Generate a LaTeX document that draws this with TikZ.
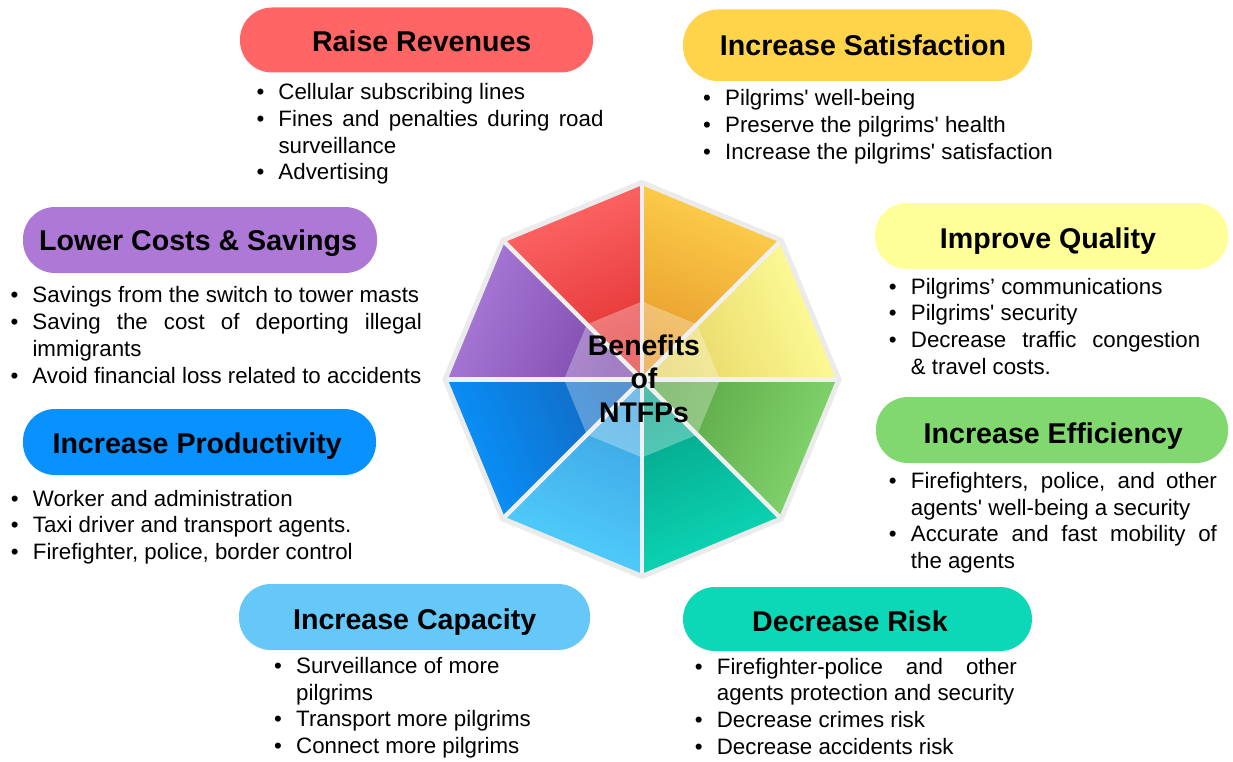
\documentclass[tikz,border=0pt]{standalone}
\usepackage{fontspec}
\setmainfont{Liberation Sans}
\newfontfamily\lib{Liberation Sans}
\usetikzlibrary{calc}
\definecolor{rrC}{HTML}{FF6565}
\definecolor{satC}{HTML}{FFD44A}
\definecolor{lcC}{HTML}{AD78D6}
\definecolor{iqC}{HTML}{FFFF99}
\definecolor{ieC}{HTML}{80D86E}
\definecolor{ipC}{HTML}{0891FF}
\definecolor{icC}{HTML}{66C8F8}
\definecolor{drC}{HTML}{0CD8B8}
\definecolor{redO}{HTML}{FF6A6A}
\definecolor{redI}{HTML}{E23030}
\definecolor{orO}{HTML}{FFD24E}
\definecolor{orI}{HTML}{E69A2A}
\definecolor{yeO}{HTML}{FFFF9C}
\definecolor{yeI}{HTML}{E6D462}
\definecolor{grO}{HTML}{84D870}
\definecolor{grI}{HTML}{5AA444}
\definecolor{teO}{HTML}{0CDAB8}
\definecolor{teI}{HTML}{05A288}
\definecolor{lbO}{HTML}{52D0FF}
\definecolor{lbI}{HTML}{3CA2E0}
\definecolor{blO}{HTML}{0894FF}
\definecolor{blI}{HTML}{1266BC}
\definecolor{puO}{HTML}{AC7CDA}
\definecolor{puI}{HTML}{7A48AA}
\definecolor{sepC}{HTML}{F0F0F0}
\definecolor{bordC}{HTML}{EBEBEB}
\newcommand{\myb}[1]{\hbox{\llap{\hbox to 22pt{•\hfil}}#1}}
\newcommand{\myj}[2]{\hbox{\llap{\hbox to 22pt{•\hfil}}\makebox[#1][s]{#2}}}
\newcommand{\myc}[1]{\hbox{#1}}
\newcommand{\mycj}[2]{\hbox{\makebox[#1][s]{#2}}}
\tikzset{
  pill/.style={rounded corners=32pt, inner sep=0pt, draw=none},
  ttl/.style={anchor=base, inner sep=0pt, text=black, font=\lib\bfseries\fontsize{28.6}{34}\selectfont},
  blist/.style={anchor=base west, inner sep=0pt, text=black, font=\lib\fontsize{22.3}{26.8}\selectfont},
  sepline/.style={draw=sepC, line width=4.5pt},
  octborder/.style={draw=bordC, line width=5pt, line join=miter},
}
\begin{document}
\begin{tikzpicture}[x=1pt,y=1pt]
\fill[white] (0,0) rectangle (1233,-762);
\useasboundingbox (0,0) rectangle (1233,-762);

% central octagon
\begin{scope}[shift={(642,-379.5)}]
  \foreach \a/\co/\ci in {90/redO/redI, 45/orO/orI, 0/yeO/yeI, -45/grO/grI, -90/teO/teI, -135/lbO/lbI, 180/blO/blI, 135/puO/puI}{
    \pgfmathsetmacro\sa{\a-67.5}
    \shade[top color=\co, bottom color=\ci, shading angle=\sa] (0,0) -- (\a:197) -- (\a+45:197) -- cycle;
  }
  \fill[white, fill opacity=0.3] (0:78) \foreach \k in {1,...,7}{ -- (\k*45:78)} -- cycle;
  \foreach \k in {0,...,7}{ \draw[sepline] (0,0) -- (\k*45:197); }
  \draw[octborder] (0:197) \foreach \k in {1,...,7}{ -- (\k*45:197)} -- cycle;
\end{scope}
\node[anchor=base, inner sep=0pt, text=black, font=\lib\bfseries\fontsize{28.4}{33.8}\selectfont] (ctr) at (644,-355)
  {\vtop{\baselineskip=33.8pt \hbox to 0pt{\hss Benefits\hss}\hbox to 0pt{\hss of\hss}\hbox to 0pt{\hss NTFPs\hss}}};

% pills
\node[pill, fill=rrC, minimum width=353pt, minimum height=65pt] (rrP) at (416.5,-40) {};
\node[pill, fill=satC, rounded corners=35pt, minimum width=349pt, minimum height=71.5pt] (satP) at (857.5,-45.25) {};
\node[pill, fill=lcC, minimum width=354pt, minimum height=66pt] (lcP) at (200,-240) {};
\node[pill, fill=iqC, minimum width=353pt, minimum height=66pt] (iqP) at (1051.5,-236) {};
\node[pill, fill=ieC, minimum width=352pt, minimum height=66pt] (ieP) at (1052,-430) {};
\node[pill, fill=ipC, minimum width=353pt, minimum height=66pt] (ipP) at (199.5,-442) {};
\node[pill, fill=icC, minimum width=351pt, minimum height=66pt] (icP) at (414.5,-617) {};
\node[pill, fill=drC, minimum width=349pt, minimum height=64pt] (drP) at (857.5,-619) {};

% titles
\node[ttl] (rrT) at (421.7,-51.5) {Raise Revenues};
\node[ttl] (satT) at (863,-56) {Increase Satisfaction};
\node[ttl] (lcT) at (198,-250.7) {Lower Costs \& Savings};
\node[ttl] (iqT) at (1048,-248.3) {Improve Quality};
\node[ttl] (ieT) at (1053.3,-443.3) {Increase Efficiency};
\node[ttl] (ipT) at (197.2,-453.3) {Increase Productivity};
\node[ttl] (icT) at (414.7,-629.3) {Increase Capacity};
\node[ttl] (drT) at (850,-631) {Decrease Risk};

% bullet lists
\node[blist] (rrL) at (278.3,-99.5) {\vtop{\baselineskip=26.8pt
  \myb{Cellular subscribing lines}
  \myj{325pt}{Fines and penalties during road}
  \myc{surveillance}
  \myb{Advertising}}};
\node[blist] (satL) at (725,-106) {\vtop{\baselineskip=26.6pt
  \myb{Pilgrims' well-being}
  \myb{Preserve the pilgrims' health}
  \myb{Increase the pilgrims' satisfaction}}};
\node[blist] (lcL) at (32.3,-302) {\vtop{\baselineskip=27pt
  \myb{Savings from the switch to tower masts}
  \myj{389.4pt}{Saving the cost of deporting illegal}
  \myc{immigrants}
  \myb{Avoid financial loss related to accidents}}};
\node[blist] (iqL) at (910.7,-294) {\vtop{\baselineskip=26.8pt
  \myb{Pilgrims’ communications}
  \myb{Pilgrims' security}
  \myj{289.3pt}{Decrease traffic congestion}
  \myc{\& travel costs.}}};
\node[blist] (ieL) at (910.7,-488.3) {\vtop{\baselineskip=26.7pt
  \myj{306pt}{Firefighters, police, and other}
  \myc{agents' well-being a security}
  \myj{306pt}{Accurate and fast mobility of}
  \myc{the agents}}};
\node[blist] (ipL) at (32.7,-506) {\vtop{\baselineskip=26.7pt
  \myb{Worker and administration}
  \myb{Taxi driver and transport agents.}
  \myb{Firefighter, police, border control}}};
\node[blist] (icL) at (296,-673.3) {\vtop{\baselineskip=26.7pt
  \myb{Surveillance of more}
  \myc{pilgrims}
  \myb{Transport more pilgrims}
  \myb{Connect more pilgrims}}};
\node[blist] (drL) at (716.7,-674) {\vtop{\baselineskip=26.8pt
  \myj{300pt}{Firefighter-police and other}
  \myc{agents protection and security}
  \myb{Decrease crimes risk}
  \myb{Decrease accidents risk}}};
\end{tikzpicture}
\end{document}
